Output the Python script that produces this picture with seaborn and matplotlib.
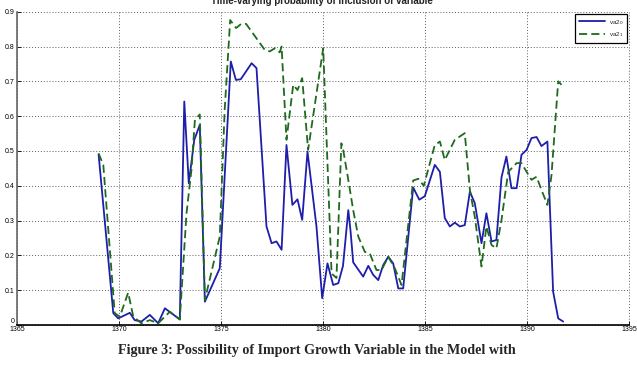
import numpy as np
import pandas as pd
import matplotlib
matplotlib.use("Agg")
import matplotlib.pyplot as plt
import seaborn as sns

# ---- data ----
years_0 = [1369.0, 1369.72, 1369.96, 1370.53, 1370.77, 1371.10, 1371.51, 1371.92, 1372.25, 1372.98,
           1373.20, 1373.42, 1373.69, 1373.96, 1374.21, 1374.94, 1375.48, 1375.73, 1375.97, 1376.50,
           1376.74, 1377.23, 1377.48, 1377.72, 1377.97, 1378.21, 1378.50, 1378.75, 1378.98, 1379.24,
           1379.68, 1379.96, 1380.22, 1380.50, 1380.75, 1380.98, 1381.24, 1381.35, 1381.48, 1381.97,
           1382.22, 1382.46, 1382.71, 1382.95, 1383.20, 1383.44, 1383.69, 1383.93, 1384.42, 1384.72,
           1384.99, 1385.48, 1385.73, 1385.97, 1386.22, 1386.46, 1386.71, 1386.95, 1387.20, 1387.44,
           1387.77, 1388.01, 1388.26, 1388.50, 1388.75, 1388.99, 1389.24, 1389.49, 1389.73, 1389.98,
           1390.22, 1390.47, 1390.71, 1391.00, 1391.28, 1391.53, 1391.77]
va2_0 = [0.490, 0.034, 0.019, 0.035, 0.014, 0.010, 0.029, 0.005, 0.048, 0.016,
         0.642, 0.407, 0.532, 0.575, 0.067, 0.163, 0.757, 0.704, 0.706, 0.752,
         0.738, 0.283, 0.235, 0.240, 0.216, 0.517, 0.345, 0.361, 0.302, 0.498,
         0.283, 0.077, 0.177, 0.115, 0.120, 0.170, 0.330, 0.270, 0.180, 0.139,
         0.170, 0.144, 0.129, 0.172, 0.196, 0.177, 0.105, 0.105, 0.395, 0.360,
         0.370, 0.460, 0.440, 0.307, 0.283, 0.294, 0.283, 0.287, 0.383, 0.350,
         0.235, 0.321, 0.240, 0.244, 0.424, 0.484, 0.393, 0.393, 0.489, 0.503,
         0.537, 0.540, 0.514, 0.527, 0.096, 0.019, 0.010]

years_1 = [1369.0, 1369.23, 1369.79, 1370.04, 1370.45, 1370.70, 1371.10, 1371.51, 1371.92, 1372.49,
           1372.98, 1373.31, 1373.55, 1373.72, 1373.96, 1374.21, 1374.94, 1375.18, 1375.45, 1375.74,
           1375.99, 1376.23, 1377.15, 1377.39, 1377.64, 1377.88, 1377.97, 1378.21, 1378.54, 1378.75,
           1378.98, 1379.27, 1380.01, 1380.42, 1380.66, 1380.90, 1380.99, 1381.24, 1381.48, 1381.73,
           1382.05, 1382.29, 1382.62, 1382.87, 1383.20, 1383.52, 1383.85, 1384.42, 1384.67, 1384.94,
           1385.48, 1385.73, 1385.97, 1386.46, 1386.95, 1387.20, 1387.44, 1387.77, 1388.01, 1388.26,
           1388.50, 1388.75, 1389.08, 1389.49, 1389.73, 1389.98, 1390.22, 1390.47, 1390.71, 1391.00,
           1391.20, 1391.53, 1391.69]
va2_1 = [0.493, 0.460, 0.034, 0.024, 0.093, 0.024, 0.005, 0.014, 0.005, 0.038,
         0.016, 0.321, 0.445, 0.589, 0.605, 0.072, 0.254, 0.618, 0.876, 0.853,
         0.865, 0.865, 0.790, 0.786, 0.795, 0.783, 0.800, 0.532, 0.690, 0.675,
         0.709, 0.503, 0.795, 0.148, 0.135, 0.522, 0.503, 0.417, 0.330, 0.254,
         0.210, 0.206, 0.158, 0.158, 0.196, 0.163, 0.115, 0.415, 0.420, 0.400,
         0.517, 0.527, 0.474, 0.532, 0.551, 0.388, 0.311, 0.168, 0.283, 0.230,
         0.220, 0.302, 0.440, 0.465, 0.465, 0.440, 0.417, 0.426, 0.388, 0.345,
         0.430, 0.700, 0.690]

x_ticks = [1365, 1370, 1375, 1380, 1385, 1390, 1395]
y_ticks = [0, 0.1, 0.2, 0.3, 0.4, 0.5, 0.6, 0.7, 0.8, 0.9]
y_tick_labels = ["0", "0.1", "0.2", "0.3", "0.4", "0.5", "0.6", "0.7", "0.8", "0.9"]
labels = [r"va2$_0$", r"va2$_1$"]
title = "Time-varying probability of inclusion of variable"
caption = "Figure 3: Possibility of Import Growth Variable in the Model with"

# ---- style ----
sns.set_style("white")
plt.rcParams["font.family"] = ["Liberation Sans", "DejaVu Sans"]

fig = plt.figure(figsize=(6.37, 3.66), dpi=100)
ax = fig.add_axes([17 / 637, 41 / 366, 612 / 637, 313.3 / 366])

df0 = pd.DataFrame({"year": years_0, "p": va2_0})
df1 = pd.DataFrame({"year": years_1, "p": va2_1})

sns.lineplot(data=df0, x="year", y="p", ax=ax, sort=False, estimator=None,
             color="#1e1eaa", linewidth=1.3, label=labels[0])
sns.lineplot(data=df1, x="year", y="p", ax=ax, sort=False, estimator=None,
             color="#1e6a1e", linewidth=1.3, linestyle=(0, (4.5, 2.3)), label=labels[1])

ax.set_xlim(1365, 1395)
ax.set_ylim(0, 0.9)
ax.set_xticks(x_ticks)
ax.set_xticklabels([str(t) for t in x_ticks])
ax.set_yticks(y_ticks)
ax.set_yticklabels(y_tick_labels)
ax.set_xlabel("")
ax.set_ylabel("")

ax.grid(True, linestyle=(0, (1, 2)), color="#333333", linewidth=0.7, alpha=0.8)
ax.set_axisbelow(True)
for gl in ax.get_xgridlines() + ax.get_ygridlines():
    gl.set_clip_on(False)

for s in ["top", "right"]:
    ax.spines[s].set_visible(False)
ax.spines["left"].set_color("#666666")
ax.spines["left"].set_linewidth(1.2)
ax.spines["bottom"].set_color("black")
ax.spines["bottom"].set_linewidth(1.2)

ax.tick_params(axis="both", direction="in", length=3, width=0.6, labelsize=5,
               pad=1.5, colors="black")
ax.tick_params(axis="both", which="both", bottom=True, left=True)
ax.tick_params(axis="x", pad=1.0)
ax.get_yticklabels()[0].set_verticalalignment("bottom")

leg = ax.legend(loc="upper right", fontsize=4.5, frameon=True, fancybox=False,
                edgecolor="black", framealpha=1, handlelength=4.2,
                borderaxespad=0.35, labelspacing=0.6, handletextpad=0.6,
                borderpad=0.6)
leg.get_frame().set_linewidth(0.9)

fig.text(0.505, 1.0 - 1.0 / 366, title, ha="center", va="center", fontsize=7,
         fontweight="bold", color="#222222")
fig.text(0.497, 0.042, caption, ha="center", va="center", fontsize=10.2,
         fontweight="bold", family=["Liberation Serif", "DejaVu Serif"])

fig.savefig("out.png", dpi=100)
